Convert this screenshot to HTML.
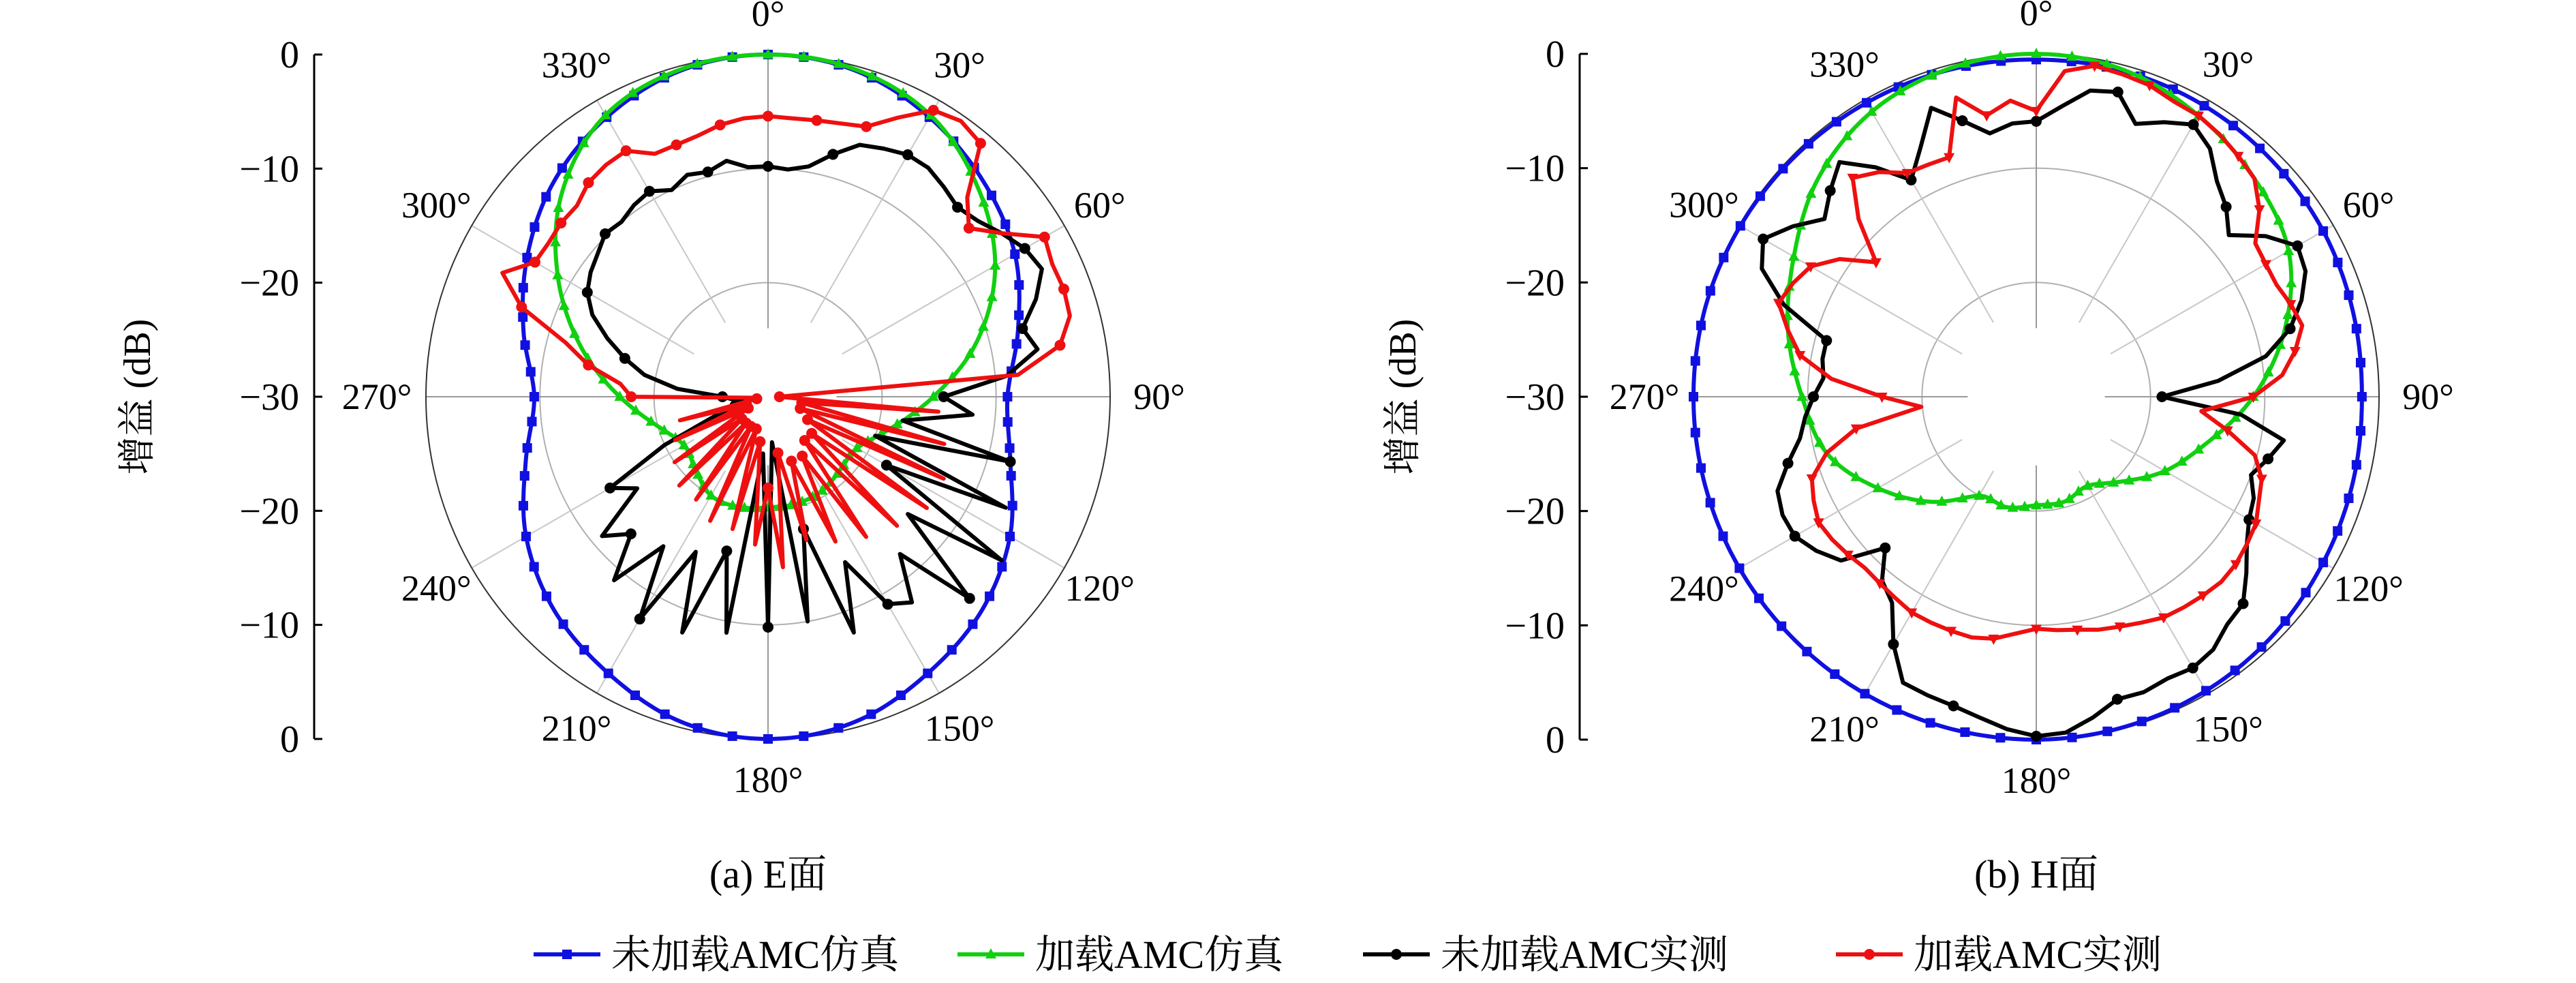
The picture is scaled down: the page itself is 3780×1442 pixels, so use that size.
<!DOCTYPE html>
<html><head><meta charset="utf-8"><style>
html,body{margin:0;padding:0;background:#fff;}
svg{display:block;}
text{font-family:"Liberation Serif","Noto Serif CJK SC",serif;fill:#000;}
</style></head><body>
<svg id="chart" width="3780" height="1442" viewBox="0 0 3780 1442" xmlns="http://www.w3.org/2000/svg">
</svg>
<script>
// ---------- data (dB) ----------
const radialTicks = ["0","−10","−20","−30","−20","−10","0"];
const angleLabels = [0,30,60,90,120,150,180,210,240,270,300,330];
const simAngles = [0,15,30,45,60,75,90,105,120,135,150,165,180,195,210,225,240,255,270,285,300,315,330,345];
const measAngles = [0,5,10,15,20,25,30,35,40,45,50,55,60,65,70,75,80,85,90,95,100,105,110,115,120,125,130,135,140,145,150,155,160,165,170,175,180,185,190,195,200,205,210,215,220,225,230,235,240,245,250,255,260,265,270,275,280,285,290,295,300,305,310,315,320,325,330,335,340,345,350,355];

const eBlueSim = [0,-0.4,-1.7,-3.3,-5,-7.3,-9,-8,-5.5,-3.5,-2,-0.5,0,-0.5,-2,-3.5,-5.5,-8,-9.5,-7.8,-5.6,-3.4,-1.7,-0.4];
const eGreenSim = [0,-0.3,-1.5,-4,-7,-11,-15.5,-19,-21,-21,-20.5,-20.3,-20.3,-20,-20,-21,-21.5,-20,-17,-13,-8.7,-4.5,-1.5,-0.3];
const eBlackMeas = [-9.8,-10,-9.5,-8,-6.5,-6,-5.5,-5.5,-6,-6.5,-6,-5,-4,-3.5,-5,-6.9,-6,-9,-14.6,-12,-18,-8,-20,-7,-18,-5,-14,-5,-12,-8,-9,-14,-8,-18,-10,-26,-9.8,-25,-9,-16,-8,-15,-7.5,-14,-9,-13,-11,-16,-14,-20,-25,-27,-28,-27,-26,-22,-19,-17,-15,-13,-11.7,-11,-10.5,-9.8,-10,-9.5,-9.2,-10,-9.3,-9.6,-9,-9.8];
const eRedMeas = [-5.4,-5.5,-5.4,-5.2,-4.8,-3,-1,-0.5,-1,-5.3,-7,-5,-2,-2.5,-2.4,-2.6,-4,-8,-29,-15,-27,-14,-27,-13,-26,-13,-25,-14,-25,-15,-24,-16,-24,-17,-25,-15,-22,-17,-26,-18,-27,-18,-27,-19,-27,-19,-27,-20,-28,-21,-28,-22,-29,-29,-18,-17,-14,-11.6,-7,-4.3,-6.4,-6.5,-6.3,-6.3,-5.5,-5.2,-5.1,-6.5,-6.5,-6.3,-5.8,-5.5];

const hBlueSim = [-0.5,-0.5,-0.6,-0.8,-1,-1.3,-1.5,-1.3,-1,-0.6,-0.3,-0.1,0,0,0,0,0,0,0,0,-0.1,-0.2,-0.3,-0.4];
const hGreenSim = [0,-0.4,-1.6,-3,-4.5,-7.5,-11,-14.5,-17,-19.5,-21,-20.5,-20.5,-20,-20,-17,-14,-11,-9.5,-7.5,-5.5,-3,-1.2,-0.3];
const hBlackMeas = [-5.9,-4.5,-2.8,-2.4,-4.6,-3.5,-2.5,-3.5,-5.4,-6.5,-8,-5.5,-3.6,-4,-5.3,-7,-9.6,-14,-19,-12,-8,-9,-10,-9,-8.5,-7.5,-6,-4.4,-4,-3,-2.6,-2.8,-2.5,-2.6,-1.5,-0.5,-0.3,-0.8,-1.5,-2,-2.2,-2.4,-5,-8,-9,-11.3,-7.7,-6.5,-5.6,-5.5,-5.9,-7.5,-9,-9.7,-10.5,-11.3,-11,-11,-6.5,-3.5,-2.4,-4,-5.8,-4.5,-3.2,-5.5,-8.1,-6,-3.1,-5,-6.6,-6];
const hRedMeas = [-5,-1.4,-0.6,-0.8,-1,-1.5,-1.6,-2,-2.5,-3,-4.5,-6.6,-6.8,-6.8,-6.3,-5.9,-7,-8.4,-11,-15.5,-13,-10.2,-9,-8.5,-7.8,-7.5,-7.2,-7.1,-7.3,-7.5,-7.7,-8.2,-8.6,-8.9,-9.3,-9.5,-9.7,-9.2,-8.5,-8.2,-8.2,-8.2,-8.2,-8.5,-8.7,-8.8,-8.5,-8.2,-8,-8.5,-9.1,-11,-14,-19.9,-16.5,-12,-9,-7.5,-6,-6.5,-7.2,-9,-11.7,-8,-5,-6,-7.4,-7.6,-7.7,-2.9,-5,-4];

// ---------- helpers ----------
const NS="http://www.w3.org/2000/svg";
const svg=document.getElementById('chart');
function mk(tag,attrs,parent){const e=document.createElementNS(NS,tag);for(const k in attrs)e.setAttribute(k,attrs[k]);(parent||svg).appendChild(e);return e;}
const DBMIN=-30, DBMAX=0;
function rScale(db,R){const v=Math.max(DBMIN,Math.min(DBMAX,db));return (v-DBMIN)/(DBMAX-DBMIN)*R;}
function pt(cx,cy,R,ang,db){const a=ang*Math.PI/180,r=rScale(db,R);return [cx+r*Math.sin(a),cy-r*Math.cos(a)];}
function smoothVal(angles,vals,a){
  const n=angles.length,step=360/n;let i=Math.floor(a/step)%n;const t=(a-i*step)/step;
  const p0=vals[(i-1+n)%n],p1=vals[i],p2=vals[(i+1)%n],p3=vals[(i+2)%n];
  return 0.5*((2*p1)+(-p0+p2)*t+(2*p0-5*p1+4*p2-p3)*t*t+(-p0+3*p1-3*p2+p3)*t*t*t);
}
function marker(g,type,x,y,color){
  let e;
  if(type==='square'){e=mk('rect',{x:x-7,y:y-7,width:14,height:14,fill:color},g);}
  else if(type==='tri'){e=mk('polygon',{points:`${x},${y-9} ${x-8},${y+6} ${x+8},${y+6}`,fill:color},g);}
  else if(type==='dtri'){e=mk('polygon',{points:`${x},${y+9} ${x-8},${y-6} ${x+8},${y-6}`,fill:color},g);}
  else {e=mk('circle',{cx:x,cy:y,r:8,fill:color},g);}
  
  
}

function drawPolar(cx,cy,R,axisX,labelX,caption,sets,prefix){
  const g=mk('g',{});
  
  
  [-20,-10].forEach(db=>{const c=mk('circle',{cx:cx,cy:cy,r:rScale(db,R),fill:'none',stroke:'#b0b0b0','stroke-width':2},g);
    });
  for(let a=0;a<360;a+=30){
    const inner=a%90===0?R*0.2:R*0.25;
    const a1=a*Math.PI/180;
    const l=mk('line',{x1:cx+inner*Math.sin(a1),y1:cy-inner*Math.cos(a1),x2:cx+R*Math.sin(a1),y2:cy-R*Math.cos(a1),stroke:a%90===0?'#999':'#c8c8c8','stroke-width':2},g);
    
  }
  const oc=mk('circle',{cx:cx,cy:cy,r:R,fill:'none',stroke:'#333','stroke-width':2},g);
  
  angleLabels.forEach(a=>{const a1=a*Math.PI/180,rr=R+60;
    const t=mk('text',{x:cx+rr*Math.sin(a1)+(a===90?12:a===270?-12:0),y:cy-rr*Math.cos(a1)+18,'text-anchor':'middle','font-size':54},g);
    t.textContent=a+'°';});
  const top=cy-R, bot=cy+R;
  const ax=mk('line',{x1:axisX,y1:top,x2:axisX,y2:bot,stroke:'#000','stroke-width':3},g);
  
  radialTicks.forEach((lab,i)=>{const y=top+i*(bot-top)/(radialTicks.length-1);
    const tk=mk('line',{x1:axisX,y1:y,x2:axisX+12,y2:y,stroke:'#000','stroke-width':3},g);
    
    const t=mk('text',{x:axisX-22,y:y+19,'text-anchor':'end','font-size':56},g);
    t.textContent=lab;});
  const yl=mk('text',{x:labelX,y:cy,'text-anchor':'middle','font-size':56,transform:`rotate(-90 ${labelX} ${cy})`},g);
  yl.textContent='增益 (dB)';
  const cp=mk('text',{x:cx,y:1302,'text-anchor':'middle','font-size':58},g);
  cp.textContent=caption;
  sets.forEach(s=>{
    const sg=mk('g',{},g);
    
    
    let pts=[];
    if(s.smooth){for(let a=0;a<=360;a+=1){pts.push(pt(cx,cy,R,a,smoothVal(s.angles,s.vals,a%360)));}}
    else{s.angles.forEach((a,i)=>pts.push(pt(cx,cy,R,a,s.vals[i])));pts.push(pts[0]);}
    const p=mk('polyline',{points:pts.map(q=>q[0].toFixed(1)+','+q[1].toFixed(1)).join(' '),fill:'none',stroke:s.color,'stroke-width':6,'stroke-linejoin':'round'},sg);
    
    for(let a=0;a<360;a+=s.mstep){
      const v=s.smooth?smoothVal(s.angles,s.vals,a):s.vals[s.angles.indexOf(a)];
      if(v===undefined)continue;
      const q=pt(cx,cy,R,a,v);marker(sg,s.marker,q[0],q[1],s.color);
    }
  });
}

drawPolar(1127,582,502,461,220,'(a) E面',[
  {name:'e-unloaded-sim',angles:simAngles,vals:eBlueSim,color:'#1010e0',marker:'square',smooth:true,mstep:6},
  {name:'e-loaded-sim',angles:simAngles,vals:eGreenSim,color:'#10d010',marker:'tri',smooth:true,mstep:6},
  {name:'e-unloaded-meas',angles:measAngles,vals:eBlackMeas,color:'#000',marker:'dot',smooth:false,mstep:15},
  {name:'e-loaded-meas',angles:measAngles,vals:eRedMeas,color:'#ee1010',marker:'dot',smooth:false,mstep:10}
],'e-plane');
drawPolar(2988,582,503,2318,2077,'(b) H面',[
  {name:'h-unloaded-sim',angles:simAngles,vals:hBlueSim,color:'#1010e0',marker:'square',smooth:true,mstep:6},
  {name:'h-loaded-sim',angles:simAngles,vals:hGreenSim,color:'#10d010',marker:'tri',smooth:true,mstep:6},
  {name:'h-unloaded-meas',angles:measAngles,vals:hBlackMeas,color:'#000',marker:'dot',smooth:false,mstep:15},
  {name:'h-loaded-meas',angles:measAngles,vals:hRedMeas,color:'#ee1010',marker:'dtri',smooth:false,mstep:10}
],'h-plane');

const legendItems=[['未加载AMC仿真','#1010e0','square',783],['加载AMC仿真','#10d010','tri',1405],['未加载AMC实测','#000','dot',2000],['加载AMC实测','#ee1010','dot',2694]];
const lg=mk('g',{});


legendItems.forEach(it=>{
  const eg=mk('g',{},lg);
  
  
  mk('line',{x1:it[3],y1:1400,x2:it[3]+98,y2:1400,stroke:it[1],'stroke-width':6},eg);
  marker(eg,it[2],it[3]+49,1400,it[1]);
  const t=mk('text',{x:it[3]+114,y:1420,'font-size':58},eg);
  t.textContent=it[0];
  
  
});
</script>
</body></html>
